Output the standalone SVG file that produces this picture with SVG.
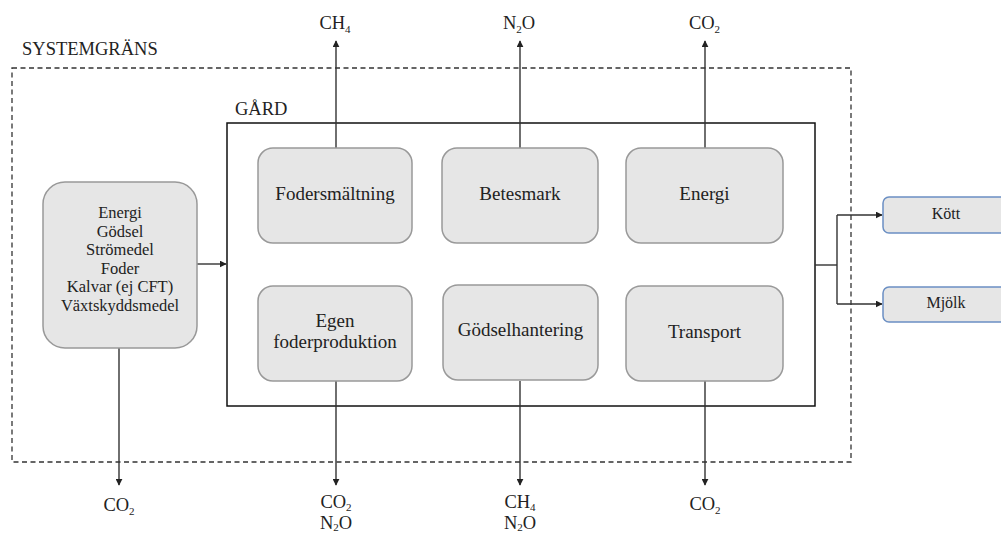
<svg xmlns="http://www.w3.org/2000/svg" width="1001" height="534" viewBox="0 0 1001 534" font-family="'Liberation Serif', 'Times New Roman', 'DejaVu Serif', serif">
<defs>
<marker id="arr" viewBox="0 0 10 10" refX="9" refY="5" markerWidth="7" markerHeight="7" markerUnits="userSpaceOnUse" orient="auto">
<path d="M0,0 L10,5 L0,10 z" fill="#222"/>
</marker>
<style>
text{font-family:'Liberation Serif','Times New Roman','DejaVu Serif',serif;fill:#222}
.lbl{font-size:18.5px}
.nt{font-size:19px;text-anchor:middle}
.it{font-size:16.5px;text-anchor:middle}
.ot{font-size:16px;text-anchor:middle}
.sub{font-size:11px}
.node{fill:#e6e6e6;stroke:#999;stroke-width:1.5}
.out{fill:#e6e6e6;stroke:#6b8fc3;stroke-width:1.5}
.con{fill:none;stroke:#333;stroke-width:1.4}
</style>
</defs>
<rect width="1001" height="534" fill="#fff"/>
<g id="systemgrans">
<rect x="12" y="68" width="839" height="394" fill="none" stroke="#333" stroke-width="1.3" stroke-dasharray="5,3.5"/>
<text class="lbl" x="22" y="55">SYSTEMGRÄNS</text>
</g>
<g id="gard">
<rect x="227" y="123" width="588" height="283" fill="none" stroke="#111" stroke-width="1.5"/>
<text class="lbl" x="235" y="115">GÅRD</text>
</g>
<g id="connectors">
<path class="con" d="M336,148 V41" marker-end="url(#arr)"/>
<path class="con" d="M520,148 V41" marker-end="url(#arr)"/>
<path class="con" d="M705,148 V41" marker-end="url(#arr)"/>
<path class="con" d="M336,381 V485" marker-end="url(#arr)"/>
<path class="con" d="M520,381 V485" marker-end="url(#arr)"/>
<path class="con" d="M705,381 V485" marker-end="url(#arr)"/>
<path class="con" d="M119,348 V485" marker-end="url(#arr)"/>
<path class="con" d="M197,264 H226" marker-end="url(#arr)"/>
<path class="con" d="M815,265 H837"/>
<path class="con" d="M837,215 V304"/>
<path class="con" d="M837,215 H882" marker-end="url(#arr)"/>
<path class="con" d="M837,304 H882" marker-end="url(#arr)"/>
</g>
<g id="input">
<rect class="node" x="43" y="182" width="154" height="166" rx="22"/>
<text class="it" x="120" y="218">Energi</text>
<text class="it" x="120" y="237">Gödsel</text>
<text class="it" x="120" y="255">Strömedel</text>
<text class="it" x="120" y="274">Foder</text>
<text class="it" x="120" y="292">Kalvar (ej CFT)</text>
<text class="it" x="120" y="311">Växtskyddsmedel</text>
</g>
<g id="fodersmaltning">
<rect class="node" x="258" y="148" width="154" height="95" rx="15"/>
<text class="nt" x="335" y="200">Fodersmältning</text>
</g>
<g id="betesmark">
<rect class="node" x="442" y="148" width="156" height="95" rx="15"/>
<text class="nt" x="520" y="200">Betesmark</text>
</g>
<g id="energi">
<rect class="node" x="626" y="148" width="157" height="95" rx="15"/>
<text class="nt" x="704.5" y="200">Energi</text>
</g>
<g id="egen">
<rect class="node" x="258" y="286" width="154" height="95" rx="15"/>
<text class="nt" x="335" y="327">Egen</text>
<text class="nt" x="335" y="348">foderproduktion</text>
</g>
<g id="godselhantering">
<rect class="node" x="443" y="285" width="155" height="95" rx="15"/>
<text class="nt" x="520.5" y="336">Gödselhantering</text>
</g>
<g id="transport">
<rect class="node" x="626" y="286" width="157" height="95" rx="15"/>
<text class="nt" x="704.5" y="338">Transport</text>
</g>
<g id="kott">
<rect class="out" x="883" y="197" width="130" height="36" rx="6"/>
<text class="ot" x="946" y="219">Kött</text>
</g>
<g id="mjolk">
<rect class="out" x="883" y="287" width="130" height="35" rx="6"/>
<text class="ot" x="946" y="308">Mjölk</text>
</g>
<g id="emissions">
<text class="lbl" x="335" y="29" text-anchor="middle">CH<tspan class="sub" dy="4">4</tspan></text>
<text class="lbl" x="519" y="29" text-anchor="middle">N<tspan class="sub" dy="4">2</tspan><tspan dy="-4">O</tspan></text>
<text class="lbl" x="704.5" y="29" text-anchor="middle">CO<tspan class="sub" dy="4">2</tspan></text>
<text class="lbl" x="119" y="511" text-anchor="middle">CO<tspan class="sub" dy="4">2</tspan></text>
<text class="lbl" x="336" y="508" text-anchor="middle">CO<tspan class="sub" dy="3">2</tspan></text>
<text class="lbl" x="336" y="529" text-anchor="middle">N<tspan class="sub" dy="2">2</tspan><tspan dy="-2">O</tspan></text>
<text class="lbl" x="520" y="508" text-anchor="middle">CH<tspan class="sub" dy="3">4</tspan></text>
<text class="lbl" x="520" y="529" text-anchor="middle">N<tspan class="sub" dy="2">2</tspan><tspan dy="-2">O</tspan></text>
<text class="lbl" x="705" y="510" text-anchor="middle">CO<tspan class="sub" dy="4">2</tspan></text>
</g>
</svg>
